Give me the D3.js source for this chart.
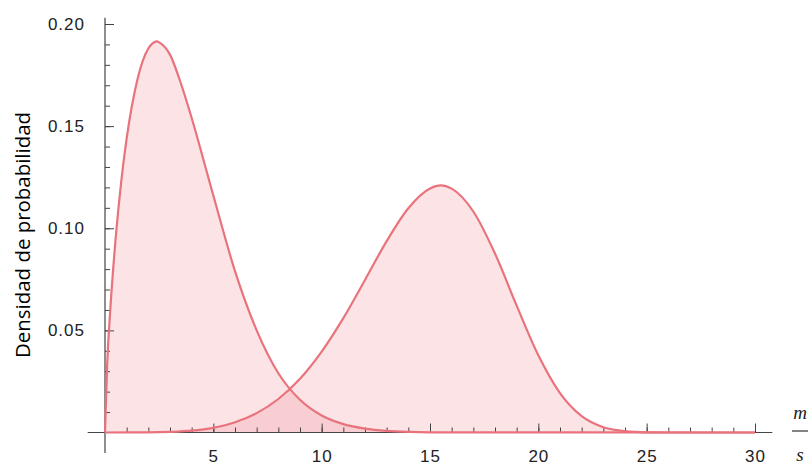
<!DOCTYPE html>
<meta charset="utf-8">
<style>

body {
  margin: 0;
  background: #fff;
}

.tick-label {
  font: 17px "Liberation Sans", Arial, sans-serif;
  fill: #222;
  letter-spacing: 1px;
}

.title {
  font: 20px "Open Sans", sans-serif;
  fill: #000;
}

.unit {
  font: italic 19px "Liberation Serif", serif;
  fill: #222;
}

</style>
<svg width="810" height="466"></svg>
<script src="https://cdn.jsdelivr.net/npm/d3@7"></script>
<script>

// wind speed (m/s) and probability density
var speed1   = [0, 0.1, 0.25, 0.5, 0.75, 1, 1.5, 2, 2.4, 2.5, 3, 3.5, 4, 5, 6, 7, 8, 9, 10, 11, 12, 13, 14, 15, 30];
var density1 = [0, 0.033, 0.061, 0.096, 0.123, 0.144, 0.173, 0.188, 0.1915, 0.191, 0.185, 0.171, 0.154, 0.116, 0.079, 0.050, 0.029, 0.016, 0.0083, 0.0041, 0.0019, 0.0008, 0.0003, 0.0001, 0];

var speed2   = [0, 2, 3, 4, 5, 6, 7, 8, 9, 10, 11, 12, 13, 14, 15, 15.5, 16, 17, 18, 19, 20, 21, 22, 23, 24, 25, 26, 30];
var density2 = [0, 0.00005, 0.0003, 0.0009, 0.0023, 0.0050, 0.0095, 0.0164, 0.0263, 0.0396, 0.0560, 0.0747, 0.0937, 0.1098, 0.1195, 0.1210, 0.1194, 0.1082, 0.0876, 0.0621, 0.0378, 0.0193, 0.0080, 0.0026, 0.0007, 0.0001, 0, 0];

var xTicks = [5, 10, 15, 20, 25, 30];
var yTicks = [0.05, 0.10, 0.15, 0.20];
var xMinor = d3.range(1, 30);
var yMinor = d3.range(1, 21).map(function(i) { return i / 100; });

var svg = d3.select("svg");

var x = d3.scaleLinear().domain([0, 30]).range([105, 755]);
var y = d3.scaleLinear().domain([0, 0.2]).range([432.5, 24]);

var lineColor = "#e8737c",
    axisColor = "#444";

var series = [
  speed1.map(function(s, i) { return [s, density1[i]]; }),
  speed2.map(function(s, i) { return [s, density2[i]]; })
];

var area = d3.area()
    .curve(d3.curveMonotoneX)
    .x(function(d) { return x(d[0]); })
    .y0(y(0))
    .y1(function(d) { return y(d[1]); });

var line = d3.line()
    .curve(d3.curveMonotoneX)
    .x(function(d) { return x(d[0]); })
    .y(function(d) { return y(d[1]); });

svg.selectAll(".fill")
  .data(series)
  .enter().append("path")
    .attr("class", "fill")
    .attr("d", area)
    .style("fill", "rgba(242,120,130,0.2)");

// axes
var gx = svg.append("g").attr("transform", "translate(0," + y(0) + ")");
gx.append("g")
    .call(d3.axisBottom(x).tickValues(xMinor).tickSize(-5).tickFormat(""))
    .call(function(g) { g.select(".domain").remove(); });
gx.append("g")
    .call(d3.axisBottom(x).tickValues(xTicks).tickSize(-9).tickPadding(17).tickFormat(d3.format("d")))
    .call(function(g) { g.select(".domain").remove(); });
gx.selectAll("line").attr("stroke", axisColor);
gx.selectAll("text").attr("class", "tick-label").attr("font-size", null).attr("font-family", null);

var gy = svg.append("g").attr("transform", "translate(" + x(0) + ",0)");
gy.append("g")
    .call(d3.axisLeft(y).tickValues(yMinor).tickSize(-5).tickFormat(""))
    .call(function(g) { g.select(".domain").remove(); });
gy.append("g")
    .call(d3.axisLeft(y).tickValues(yTicks).tickSize(-9).tickPadding(20).tickFormat(d3.format(".2f")))
    .call(function(g) { g.select(".domain").remove(); });
gy.selectAll("line").attr("stroke", axisColor);
gy.selectAll("text").attr("class", "tick-label").attr("font-size", null).attr("font-family", null);

svg.append("line")
    .attr("x1", x(-0.8)).attr("x2", x(30.8))
    .attr("y1", y(0)).attr("y2", y(0))
    .attr("stroke", axisColor).attr("stroke-width", 1.2);
svg.append("line")
    .attr("x1", x(0)).attr("x2", x(0))
    .attr("y1", y(0.203)).attr("y2", y(-0.01))
    .attr("stroke", axisColor).attr("stroke-width", 1.2);

svg.selectAll(".curve")
  .data(series)
  .enter().append("path")
    .attr("class", "curve")
    .attr("d", line)
    .style("fill", "none")
    .style("stroke", lineColor)
    .style("stroke-width", 2.2);

// axis labels
svg.append("text")
    .attr("class", "title")
    .attr("transform", "translate(30,235) rotate(-90)")
    .attr("text-anchor", "middle")
    .attr("textLength", 246)
    .attr("lengthAdjust", "spacingAndGlyphs")
    .text("Densidad de probabilidad");

var unit = svg.append("g").attr("transform", "translate(800,0)");
unit.append("text").attr("class", "unit").attr("text-anchor", "middle").attr("y", 419).text("m");
unit.append("line")
    .attr("x1", -8).attr("x2", 8).attr("y1", 431).attr("y2", 431)
    .attr("stroke", "#333").attr("stroke-width", 1.2);
unit.append("text").attr("class", "unit").attr("text-anchor", "middle").attr("y", 461).text("s");

</script>
